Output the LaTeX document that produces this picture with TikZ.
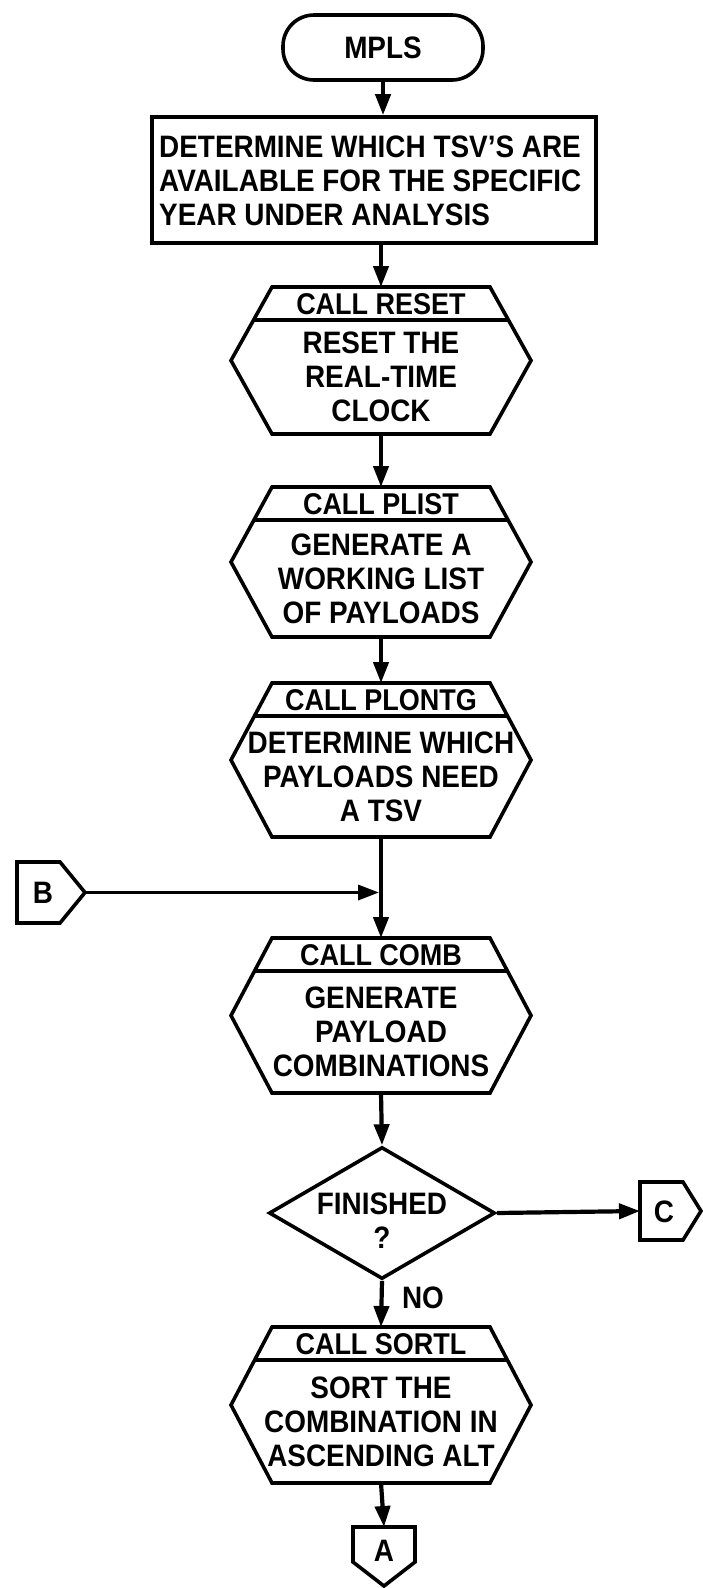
\documentclass[tikz,border=0pt]{standalone}
\usepackage{fontspec}
\setmainfont{Liberation Sans}[FakeStretch=0.9]
\usetikzlibrary{arrows.meta,shapes.geometric,calc}
\newcommand\hexproc[5]{%
  \node[hexnode, minimum height=#3] (#1) at (381,#2) {};
  \pgfmathsetmacro\hf{66/#3}%
  \coordinate (#1tl) at ($(#1.north west)+(41,0)$);
  \coordinate (#1tr) at ($(#1.north east)+(-41,0)$);
  \draw[outline] (#1tl) -- (#1.west) -- ($(#1.south west)+(41,0)$) -- ($(#1.south east)+(-41,0)$) -- (#1.east) -- (#1tr) -- cycle;
  \draw[outline] ($(#1tl)!\hf!(#1.west)$) -- ($(#1tr)!\hf!(#1.east)$);
  \node[txt, font=\bfseries\fontsize{30}{33}\selectfont] (#1lab) at ($(#1.north)+(0,17)$) {#4};
  \node[txt] (#1body) at ($(#1.center)+(0,16.5)$) {#5};
}
\begin{document}
\begin{tikzpicture}[x=1pt,y=-1pt,
  every node/.style={font=\bfseries\fontsize{31}{34}\selectfont},
  outline/.style={draw, line width=3.6pt},
  flow/.style={line width=4.2pt, -{Triangle[length=21pt,width=15pt]}},
  hexnode/.style={minimum width=300pt, inner sep=0pt, outer sep=0pt},
  conn/.style={inner sep=0pt, outer sep=0pt},
  txt/.style={align=center, inner sep=0pt},
]
\fill[white] (0,0) rectangle (702,1588);
\useasboundingbox (0,0) rectangle (702,1588);

% start terminal
\node[outline, rounded corners=31pt, minimum width=200pt, minimum height=65pt, inner sep=0pt] (mpls) at (383,47.5) {MPLS};

% process rectangle
\node[outline, minimum width=444pt, minimum height=126pt, inner sep=0pt] (det) at (374,180) {};
\node[txt, align=left, anchor=west] (dettxt) at (159,181) {DETERMINE WHICH TSV'S ARE\\AVAILABLE FOR THE SPECIFIC\\YEAR UNDER ANALYSIS};

% predefined-process hexagons
\hexproc{h1}{360.5}{147}{CALL RESET}{RESET THE\\REAL-TIME\\CLOCK}
\hexproc{h2}{562}{150}{CALL PLIST}{GENERATE A\\WORKING LIST\\OF PAYLOADS}
\hexproc{h3}{760}{154}{CALL PLONTG}{DETERMINE WHICH\\PAYLOADS NEED\\A TSV}
\hexproc{h4}{1015.5}{155}{CALL COMB}{GENERATE\\PAYLOAD\\COMBINATIONS}
\hexproc{h5}{1405}{156}{CALL SORTL}{SORT THE\\COMBINATION IN\\ASCENDING ALT}

% decision
\node[outline, diamond, minimum width=226pt, minimum height=132pt, inner sep=0pt] (fin) at (382,1213) {};
\node[txt] (fintxt) at (382,1221) {FINISHED\\?};

% off-page connectors
\node[conn, minimum width=68pt, minimum height=61pt] (B) at (51,892.5) {};
\draw[outline] (B.north west) -- ($(B.north east)+(-25,0)$) -- (B.east) -- ($(B.south east)+(-25,0)$) -- (B.south west) -- cycle;
\node[txt] (Btxt) at (43,893) {B};

\node[conn, minimum width=61pt, minimum height=58pt] (C) at (670.5,1211) {};
\draw[outline] (C.north west) -- ($(C.north east)+(-18,0)$) -- (C.east) -- ($(C.south east)+(-18,0)$) -- (C.south west) -- cycle;
\node[txt] (Ctxt) at (664,1212) {C};

\node[conn, minimum width=62pt, minimum height=59pt] (A) at (384,1556.5) {};
\draw[outline] (A.north west) -- (A.north east) -- ($(A.south east)+(0,-24)$) -- (A.south) -- ($(A.south west)+(0,-24)$) -- cycle;
\node[txt] (Atxt) at (384,1551) {A};

% connectors
\draw[flow] (mpls.south) -- (mpls.south |- det.north);
\draw[flow] (h1.north |- det.south) -- (h1.north);
\draw[flow] (h1.south) -- (h2.north);
\draw[flow] (h2.south) -- (h3.north);
\draw[flow] (h3.south) -- (h4.north);
\draw[flow, line width=3.4pt, shorten >=2pt] (B.east) -- (B.east -| h4.north);
\draw[flow] (h4.south) -- (fin.north);
\draw[flow] (fin.east) -- (C.west);
\draw[flow] (fin.south) -- (h5.north);
\node[txt] (no) at (423,1298) {NO};
\draw[flow] (h5.south) -- (A.north);
\end{tikzpicture}
\end{document}
